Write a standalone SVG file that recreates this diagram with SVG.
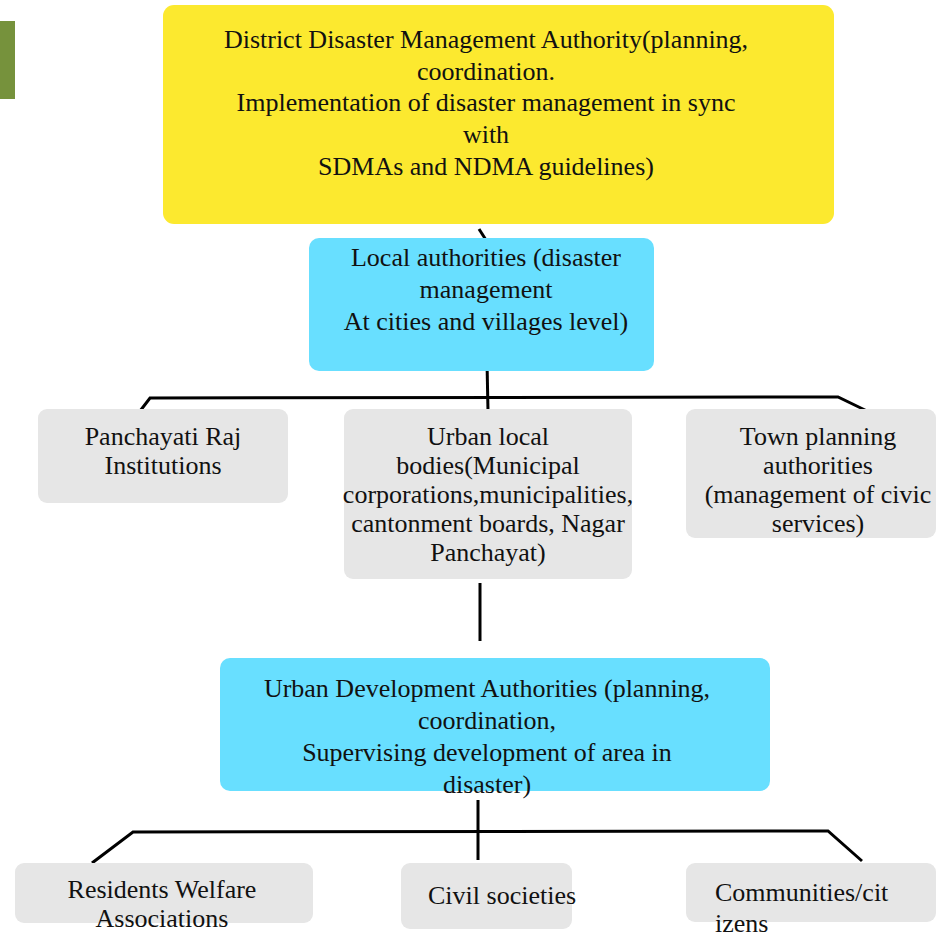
<svg xmlns="http://www.w3.org/2000/svg" width="937" height="935" viewBox="0 0 937 935">
<style>
text{font-family:"Liberation Serif","Times New Roman",serif;font-size:26px;fill:#111;}
.c{text-anchor:middle;}
.yel{fill:#FCE92F;}
.cyan{fill:#68DFFF;}
.gray{fill:#E6E6E6;}
.ln{stroke:#000;stroke-width:3;fill:none;stroke-linecap:butt;}
</style>
<rect x="0" y="21" width="15" height="78" fill="#76923C"/>
<g id="connectors">
<path class="ln" d="M479,229 L486,240"/>
<path class="ln" d="M487,362 L488,411"/>
<path class="ln" d="M137,415 L150,398 L838,397 L867,411"/>
<path class="ln" d="M480,583 L480,641"/>
<path class="ln" d="M478,800 L478,860"/>
<path class="ln" d="M92,863 L133,832 L828,831 L862,861"/>
</g>
<g id="ddma">
<rect class="yel" x="163" y="5" width="671" height="219" rx="11"/>
<text class="c" x="486" y="48">District Disaster Management Authority(planning,</text>
<text class="c" x="486" y="80">coordination.</text>
<text class="c" x="486" y="111">Implementation of  disaster management in sync</text>
<text class="c" x="486" y="143">with</text>
<text class="c" x="486" y="175">SDMAs and NDMA guidelines)</text>
</g>
<g id="local">
<rect class="cyan" x="309" y="238" width="345" height="133" rx="10"/>
<text class="c" x="486" y="266">Local authorities (disaster</text>
<text class="c" x="486" y="298">management</text>
<text class="c" x="486" y="330">At cities and villages level)</text>
</g>
<g id="pri">
<rect class="gray" x="38" y="409" width="250" height="94" rx="9"/>
<text class="c" x="163" y="445">Panchayati Raj</text>
<text class="c" x="163" y="474">Institutions</text>
</g>
<g id="ulb">
<rect class="gray" x="344" y="409" width="288" height="170" rx="9"/>
<text class="c" x="488" y="445">Urban local</text>
<text class="c" x="488" y="474">bodies(Municipal</text>
<text class="c" x="488" y="503">corporations,municipalities,</text>
<text class="c" x="488" y="532">cantonment boards, Nagar</text>
<text class="c" x="488" y="561">Panchayat)</text>
</g>
<g id="tpa">
<rect class="gray" x="686" y="409" width="250" height="129" rx="9"/>
<text class="c" x="818" y="445">Town planning</text>
<text class="c" x="818" y="474">authorities</text>
<text class="c" x="818" y="503">(management of civic</text>
<text class="c" x="818" y="532">services)</text>
</g>
<g id="uda">
<rect class="cyan" x="220" y="658" width="550" height="133" rx="10"/>
<text class="c" x="487" y="697">Urban Development Authorities (planning,</text>
<text class="c" x="487" y="729">coordination,</text>
<text class="c" x="487" y="761">Supervising development of area in</text>
<text class="c" x="487" y="793">disaster)</text>
</g>
<g id="rwa">
<rect class="gray" x="15" y="863" width="298" height="60" rx="9"/>
<text class="c" x="162" y="898">Residents Welfare</text>
<text class="c" x="162" y="927">Associations</text>
</g>
<g id="civil">
<rect class="gray" x="401" y="863" width="171" height="66" rx="9"/>
<text x="428" y="904">Civil societies</text>
</g>
<g id="communities">
<rect class="gray" x="686" y="863" width="250" height="59" rx="9"/>
<text x="715" y="901">Communities/cit</text>
<text x="715" y="932">izens</text>
</g>
</svg>
